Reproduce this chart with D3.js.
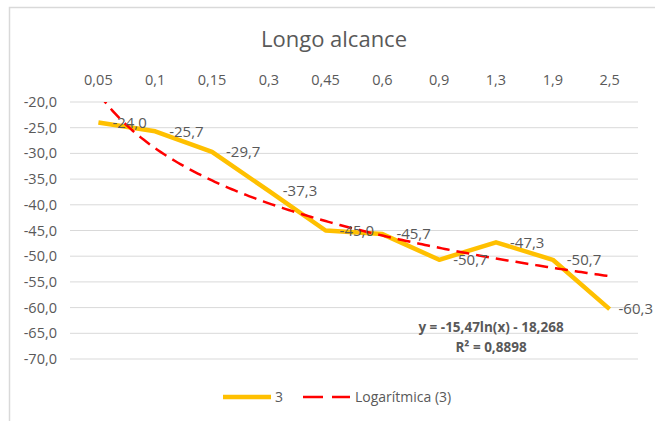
<!DOCTYPE html>
<html>
<head>
<meta charset="utf-8">
<script src="https://cdn.jsdelivr.net/npm/d3@7"></script>
<style>
  body { margin: 0; background: #fff; }
  text { font-family: "Open Sans", "Noto Sans", sans-serif; }
</style>
</head>
<body>
<script>
// chart values
var categories = ["0,05", "0,1", "0,15", "0,3", "0,45", "0,6", "0,9", "1,3", "1,9", "2,5"];
var values = [-24.0, -25.7, -29.7, -37.3, -45.0, -45.7, -50.7, -47.3, -50.7, -60.3];
var yTicks = [-20, -25, -30, -35, -40, -45, -50, -55, -60, -65, -70];
// logarithmic trendline coefficients (y = a ln(x) + b, x = 1..n)
var trendA = -15.47, trendB = -18.268;
var trendText = ["y = -15,47ln(x) - 18,268", "R² = 0,8898"];
var seriesName = "3", trendName = "Logarítmica (3)";

var W = 655, H = 421;
var margin = {top: 102, left: 70, right: 17, bottom: 62};

var svg = d3.select("body").append("svg")
    .attr("width", W)
    .attr("height", H);

// chart area border (cut off on the right and bottom)
svg.append("rect")
    .attr("x", 9.5).attr("y", 7.5)
    .attr("width", 700).attr("height", 500)
    .attr("fill", "none")
    .attr("stroke", "#d9d9d9")
    .attr("stroke-width", 1.5);

var x = d3.scaleBand()
    .domain(categories)
    .range([margin.left, W - margin.right]);

var y = d3.scaleLinear()
    .domain([-70, -20])
    .range([359, 102]);

var fmt = function(v){ return d3.format(".1f")(v).replace("−", "-").replace(".", ","); };

// title
svg.append("text")
    .text("Longo alcance")
    .attr("x", 334).attr("y", 47)
    .attr("text-anchor", "middle")
    .attr("fill", "#595959")
    .style("font-size", "22px");

// gridlines
svg.append("g").selectAll("line")
    .data(yTicks)
    .enter().append("line")
    .attr("x1", margin.left).attr("x2", W - margin.right)
    .attr("y1", function(d){ return y(d); })
    .attr("y2", function(d){ return y(d); })
    .attr("stroke", "#d9d9d9")
    .attr("stroke-width", 1);

// y tick labels
svg.append("g").selectAll("text")
    .data(yTicks)
    .enter().append("text")
    .text(function(d){ return fmt(d); })
    .attr("x", 57)
    .attr("y", function(d){ return y(d); })
    .attr("dy", "0.35em")
    .attr("text-anchor", "end")
    .attr("fill", "#595959")
    .style("font-size", "14.5px");

// x tick labels at the top
svg.append("g").selectAll("text")
    .data(categories)
    .enter().append("text")
    .text(function(d){ return d; })
    .attr("x", function(d){ return x(d) + x.bandwidth() / 2; })
    .attr("y", 80)
    .attr("dy", "0.35em")
    .attr("text-anchor", "middle")
    .attr("fill", "#595959")
    .style("font-size", "14.5px");

var cx = function(i){ return x(categories[i]) + x.bandwidth() / 2; };

// main series
var line = d3.line()
    .x(function(d, i){ return cx(i); })
    .y(function(d){ return y(d); });

svg.append("path")
    .datum(values)
    .attr("d", line)
    .attr("fill", "none")
    .attr("stroke", "#ffc000")
    .attr("stroke-width", 4.5)
    .attr("stroke-linejoin", "round");

// trendline, clipped to the plot area
svg.append("clipPath").attr("id", "plotclip")
    .append("rect")
    .attr("x", margin.left).attr("y", y(-20))
    .attr("width", W - margin.right - margin.left)
    .attr("height", y(-70) - y(-20));

var trendIdx = d3.range(1, values.length + 0.001, 0.05);
var trendLine = d3.line()
    .x(function(t){ return cx(0) + (t - 1) * x.bandwidth(); })
    .y(function(t){ return y(trendA * Math.log(t) + trendB); });

svg.append("path")
    .datum(trendIdx)
    .attr("d", trendLine)
    .attr("clip-path", "url(#plotclip)")
    .attr("fill", "none")
    .attr("stroke", "#ff0000")
    .attr("stroke-width", 2.5)
    .attr("stroke-dasharray", "13,7");

// data labels (kept inside the picture)
svg.append("g").selectAll("text")
    .data(values)
    .enter().append("text")
    .text(function(d){ return fmt(d); })
    .attr("x", function(d, i){ return cx(i) + 14; })
    .attr("y", function(d){ return y(d); })
    .attr("dy", "0.35em")
    .attr("fill", "#595959")
    .style("font-size", "15px")
    .each(function(){
        var el = d3.select(this);
        var w = this.getComputedTextLength();
        var x0 = +el.attr("x");
        if (x0 + w > W - 2) el.attr("x", W - 2 - w);
    });

// trendline equation
svg.append("g").selectAll("text")
    .data(trendText)
    .enter().append("text")
    .text(function(d){ return d; })
    .attr("x", 491)
    .attr("y", function(d, i){ return 327 + i * 20; })
    .attr("dy", "0.35em")
    .attr("text-anchor", "middle")
    .attr("fill", "#595959")
    .attr("font-weight", 700)
    .style("font-size", "13.5px");

// legend
var lg = svg.append("g");
lg.append("line")
    .attr("x1", 223).attr("x2", 271).attr("y1", 397).attr("y2", 397)
    .attr("stroke", "#ffc000").attr("stroke-width", 4.5);
lg.append("text").text(seriesName)
    .attr("x", 275).attr("y", 397).attr("dy", "0.35em")
    .attr("fill", "#595959").style("font-size", "14px");
lg.append("line")
    .attr("x1", 303).attr("x2", 350).attr("y1", 397).attr("y2", 397)
    .attr("stroke", "#ff0000").attr("stroke-width", 2.5)
    .attr("stroke-dasharray", "20,9");
lg.append("text").text(trendName)
    .attr("x", 355).attr("y", 397).attr("dy", "0.35em")
    .attr("fill", "#595959").style("font-size", "14px");
</script>
</body>
</html>
